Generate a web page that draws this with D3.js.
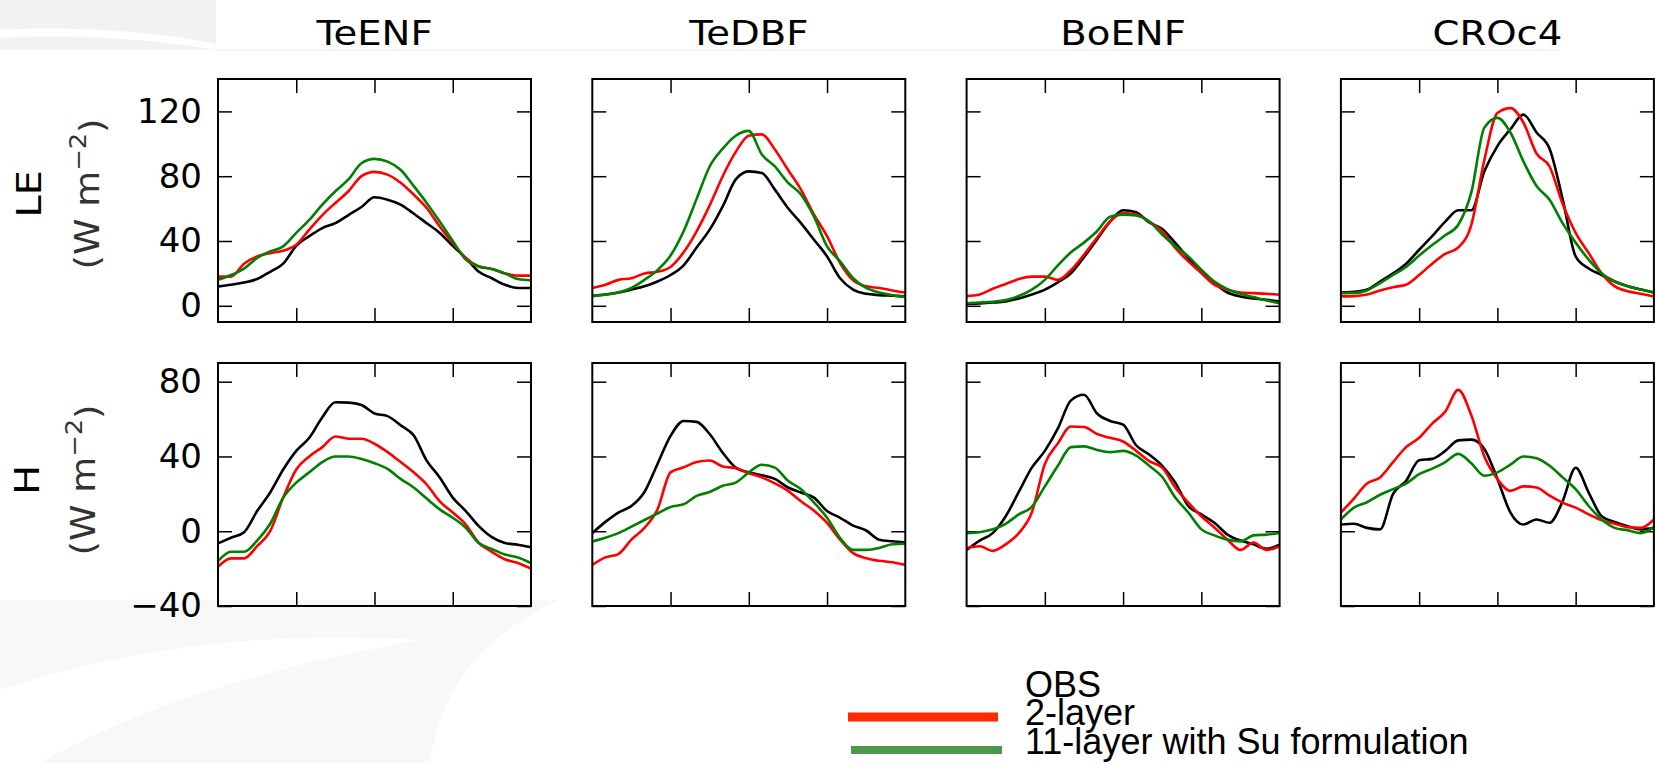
<!DOCTYPE html>
<html>
<head>
<meta charset="utf-8">
<script src="https://cdn.jsdelivr.net/npm/d3@7"></script>
<style>
  html, body { margin: 0; padding: 0; background: #fff; }
  svg { display: block; }
  text { font-family: 'DejaVu Sans', sans-serif; }
</style>
</head>
<body>
<div id="chart"></div>
<script>
const panels = ['TeENF', 'TeDBF', 'BoENF', 'CROc4']
const days = [0, 15, 30, 45, 60, 75, 90, 105, 120, 135, 150, 165, 180,
  195, 210, 225, 240, 255, 270, 285, 300, 315, 330, 345, 360]
const dayTicks = [90, 180, 270]
const leTicks = [0, 40, 80, 120]
const hTicks = [-40, 0, 40, 80]
const seriesNames = ['OBS', '2-layer', '11-layer with Su formulation']

// latent heat, one row per PFT
const leObs = [
  [12, 13, 14.4, 16.5, 21, 26, 37, 43, 48, 51, 56, 61, 67, 65.5, 62.5, 57, 51, 45, 37, 29.5, 21, 17, 13, 11, 11],
  [6.2, 7, 8.2, 10, 12, 15, 19, 25, 36, 47, 61.4, 78, 83, 82, 71.7, 60.4, 51, 40.8, 30.5, 17, 10, 7.4, 6.6, 6.2, 5.8],
  [1.2, 1.5, 2, 2.7, 4.5, 7, 10, 14.5, 20, 30, 41, 52, 59, 57.7, 51.5, 47.4, 38.8, 29.5, 21, 14, 8.2, 5.8, 4.5, 3.7, 2.7],
  [8.2, 8.6, 10, 15, 20, 26, 34.6, 43, 52, 59, 59, 83, 98.6, 109, 118, 107, 97, 66, 30.5, 23, 19, 15, 12, 10, 8.2],
]
const le2layer = [
  [18, 18, 26, 30.5, 32.5, 34, 37.7, 47, 56, 63.5, 70.7, 80, 82.7, 81, 76, 68.7, 60.4, 49, 38.8, 29.5, 24.3, 22.7, 20, 18.6, 18.6],
  [11, 13, 16, 17, 20, 21, 24, 33, 46, 62, 80, 95, 105, 105.8, 96.5, 84, 71.7, 56.3, 43, 26.4, 15.7, 12, 11, 9.5, 8.2],
  [6, 7, 10.5, 13.5, 16.5, 18, 18, 16, 22, 31.5, 42, 52, 57.3, 56.3, 52, 46, 35.7, 27.4, 20.2, 13, 9.9, 8.2, 7.8, 7.4, 6.8],
  [5.8, 6, 7, 9.5, 11.5, 13, 19, 26, 32, 36, 50, 90, 119, 122, 113, 94, 86, 63, 45, 32.6, 20, 12, 9, 7.4, 5.8],
]
const le11layer = [
  [16, 19, 23, 29.5, 33.6, 36.7, 45, 53, 62.5, 70.7, 78, 88, 90.7, 89, 84, 74, 63.5, 52, 40, 28.5, 24.3, 22.7, 20, 16.5, 15.7],
  [6, 6.8, 8.2, 11, 16, 22, 31, 46, 66, 86, 97, 105, 108, 93.4, 86, 76, 68.7, 55, 36.7, 27.4, 17, 11, 8.2, 6.6, 5.4],
  [1.6, 2, 2.5, 3.5, 6, 10, 16, 25, 33, 39, 46, 55, 56.3, 55.7, 52, 44, 36.7, 30.5, 22.3, 15, 10.3, 7.4, 5.4, 3.3, 1.6],
  [7.8, 7.9, 9.5, 14, 19, 24, 31, 37.5, 43.5, 50, 70, 110, 116, 107, 89, 74, 65.5, 51, 39, 28.5, 20, 15, 12, 10, 8.2],
]

// sensible heat, one row per PFT
const hObs = [
  [-6.5, -3.5, -0.5, 10.8, 20.7, 33, 43, 50, 61, 69, 68.8, 67.5, 63, 61.6, 56.7, 51.3, 37.8, 28.8, 18, 10.8, 2.7, -3.2, -6.3, -7.2, -8.6],
  [-1, 5, 10, 13.5, 21, 36, 51, 59, 58.5, 52, 42, 34, 31.5, 30, 28, 23.4, 20.7, 18, 10.8, 7.2, 3, 0.4, -4.5, -5.4, -6],
  [-10, -5, -1, 8, 21, 34, 43, 55, 70, 73, 63, 59, 57, 46, 41, 35, 26, 13.5, 9, 4.5, -1.8, -5, -7, -9.4, -7.2],
  [3.6, 4, 1.8, 1, 20, 27, 38, 38.7, 43, 48.6, 49, 44, 28, 10, 3.6, 6.3, 4.5, 16, 34, 20.7, 8, 5, 2.7, 1, 1.8],
]
const h2layer = [
  [-19, -14.5, -14.5, -8, 0, 18, 33, 40, 45, 50.7, 49.5, 49.5, 46.8, 42.3, 37, 31.5, 25, 16, 10, 3.6, -6.3, -11, -15, -17, -20],
  [-18, -14, -12.2, -4.5, 1.8, 11.7, 31.5, 34.2, 37, 37.8, 34.6, 33.7, 31, 28.8, 25.6, 21.6, 16, 11, 4.5, -4.5, -11.7, -14.4, -15.8, -16.6, -18],
  [-9, -8, -10.5, -7, -1, 10, 36, 47, 56, 55.8, 52, 50, 48, 43, 37.5, 34, 23.4, 15.3, 8, 2, -4.5, -10, -6, -10, -8],
  [10, 17.5, 25.5, 28.8, 37, 45, 50, 57.6, 64, 75.6, 62, 40, 28, 21.6, 24, 23.4, 19, 15.3, 12.6, 9, 5.8, 4, 2.2, 1.8, 6.3],
]
const h11layer = [
  [-16, -11, -11, -5, 4, 18, 26, 31.5, 37, 40, 40, 38.7, 36.4, 33.3, 28, 23.4, 17.5, 11.7, 7.2, 1.8, -6.3, -9.5, -12.5, -14, -17],
  [-5.5, -3.5, -1, 2.5, 6, 9.5, 13, 14.4, 18.9, 21, 24.3, 26, 31.5, 35.6, 34, 27, 22.5, 15.3, 7.2, -3.6, -10, -10, -9, -7, -6.7],
  [-1, -0.5, 1, 4, 9, 13, 24, 35, 45, 45.4, 43.5, 42.3, 43, 40.5, 35, 29, 18, 10, 1, -2.2, -4.5, -5.4, -2.2, -1.8, -0.9],
  [6.3, 12.6, 15.5, 19.5, 22.5, 25.5, 30.5, 33.5, 37, 41.4, 36.4, 29.7, 31.5, 35.6, 40, 39, 35, 28.8, 22.5, 13.5, 6.3, 1.8, 0.5, -1, 2.2],
]

let width = 1656,
  height = 763
let colors = ['#000000', '#ff0000', '#008000']
let legendColors = ['none', '#ff2a00', '#4c984c']
let colLeft = [218, 592.3, 966.6, 1340.9]
let panelW = 313,
  panelH = 243,
  tickLen = 14

let rows = [
  { label: 'LE', domain: [-10, 140], ticks: leTicks, top: 79, series: [leObs, le2layer, le11layer], lx: 29, ux: 87, ly: 194 },
  { label: 'H', domain: [-40, 90], ticks: hTicks, top: 363, series: [hObs, h2layer, h11layer], lx: 27, ux: 83, ly: 480 },
]

let svg = d3
  .select('#chart')
  .append('svg')
  .attr('width', width)
  .attr('height', height)

// slide background bits
let bg = svg.append('g').classed('background', true)
bg.append('rect')
  .attr('x', 0)
  .attr('y', 0)
  .attr('width', 216)
  .attr('height', 50)
  .style('fill', '#f2f2f2')
bg.append('path')
  .attr('d', 'M0,30 C60,26 150,30 216,44 L216,50 C150,38 60,34 0,38 Z')
  .style('fill', '#ffffff')
bg.append('line')
  .attr('x1', 216)
  .attr('x2', 1560)
  .attr('y1', 50)
  .attr('y2', 50)
  .style('stroke', '#f0f0f0')
  .style('stroke-width', 1.5)
bg.append('path')
  .attr('d', 'M0,600 L560,600 C470,640 440,700 430,763 L0,763 Z')
  .style('fill', '#f8f8f8')
bg.append('path')
  .attr('d', 'M0,690 C120,650 260,630 420,640 C300,660 150,700 40,763 L0,763 Z')
  .style('fill', '#ffffff')

let x = d3.scaleLinear().domain([0, 360])
let tickLabel = function(d) {
  return d < 0 ? '\u2212' + Math.abs(d) : String(d)
}

rows.forEach(function(row) {
  let y = d3
    .scaleLinear()
    .domain(row.domain)
    .range([row.top + panelH, row.top])

  panels.forEach(function(name, c) {
    let left = colLeft[c]
    x.range([left, left + panelW])
    let g = svg.append('g').classed('panel', true)

    g.append('g')
      .attr('transform', 'translate(' + left + ',0)')
      .call(
        d3
          .axisLeft(y)
          .tickValues(row.ticks)
          .tickSize(-tickLen)
          .tickPadding(16)
          .tickFormat(c === 0 ? tickLabel : '')
      )
    g.append('g')
      .attr('transform', 'translate(' + (left + panelW) + ',0)')
      .call(d3.axisRight(y).tickValues(row.ticks).tickSize(-tickLen).tickFormat(''))
    g.append('g')
      .attr('transform', 'translate(0,' + row.top + ')')
      .call(d3.axisTop(x).tickValues(dayTicks).tickSize(-tickLen).tickFormat(''))
    g.append('g')
      .attr('transform', 'translate(0,' + (row.top + panelH) + ')')
      .call(d3.axisBottom(x).tickValues(dayTicks).tickSize(-tickLen).tickFormat(''))

    g.selectAll('.domain').remove()
    g.selectAll('.tick line')
      .style('stroke', '#000')
      .style('stroke-width', 1.5)
    g.selectAll('.tick text')
      .style('font-family', "'DejaVu Sans', sans-serif")
      .style('font-size', '34px')
      .style('fill', '#000')

    let line = d3
      .line()
      .x(function(d, i) {
        return x(days[i])
      })
      .y(function(d) {
        return y(d)
      })
      .curve(d3.curveMonotoneX)

    g.selectAll('path.series')
      .data(row.series.map(function(s) {
        return s[c]
      }))
      .enter()
      .append('path')
      .classed('series', true)
      .attr('d', line)
      .style('fill', 'none')
      .style('stroke', function(d, i) {
        return colors[i]
      })
      .style('stroke-width', 2.6)
      .style('stroke-linejoin', 'round')

    g.append('rect')
      .attr('x', left)
      .attr('y', row.top)
      .attr('width', panelW)
      .attr('height', panelH)
      .style('fill', 'none')
      .style('stroke', '#000')
      .style('stroke-width', 2)

    if (row === rows[0]) {
      svg
        .append('text')
        .attr('transform', 'translate(' + (left + panelW / 2) + ',45) scale(1.17,1)')
        .attr('text-anchor', 'middle')
        .style('font-size', '33px')
        .text(name)
    }
  })

  svg
    .append('text')
    .attr('transform', 'translate(' + row.lx + ',' + row.ly + ') rotate(-90) scale(1.18,1)')
    .attr('text-anchor', 'middle')
    .attr('dy', '0.36em')
    .style('font-size', '34px')
    .text(row.label)
  let unit = svg
    .append('text')
    .attr('transform', 'translate(' + row.ux + ',' + row.ly + ') rotate(-90) scale(1.12,1)')
    .attr('text-anchor', 'middle')
    .attr('dy', '0.36em')
    .style('font-size', '33px')
    .style('fill', '#333')
  unit.append('tspan').text('(W m')
  unit
    .append('tspan')
    .attr('dy', '-0.55em')
    .style('font-size', '23px')
    .text('\u22122')
  unit
    .append('tspan')
    .attr('dy', '0.55em')
    .text(')')
})

// legend
let legendTextY = [697, 725, 754]
let legendLineY = [0, 717, 750]
let legend = svg.append('g').classed('legend', true)
let entries = legend
  .selectAll('g.legend-entry')
  .data(seriesNames)
  .enter()
  .append('g')
  .classed('legend-entry', true)
entries
  .filter(function(d, i) {
    return i > 0
  })
  .append('line')
  .attr('x1', function(d, i) {
    return i === 1 ? 851 : 848
  })
  .attr('x2', function(d, i) {
    return i === 1 ? 1002 : 998
  })
  .attr('y1', function(d, i) {
    return legendLineY[i + 1]
  })
  .attr('y2', function(d, i) {
    return legendLineY[i + 1]
  })
  .style('stroke', function(d, i) {
    return legendColors[i + 1]
  })
  .style('stroke-width', function(d, i) {
    return i === 1 ? 8 : 9
  })
entries
  .append('text')
  .attr('x', 1025)
  .attr('y', function(d, i) {
    return legendTextY[i]
  })
  .style('font-family', "'Liberation Sans', Arial, sans-serif")
  .style('font-size', '36px')
  .text(function(d) {
    return d
  })
</script>
</body>
</html>
